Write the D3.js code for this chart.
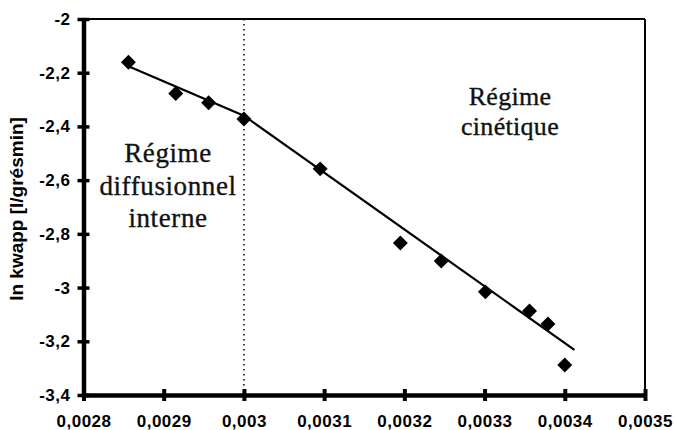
<!doctype html>
<html lang="fr">
<head>
<meta charset="utf-8">
<title>ln kwapp vs 1/T</title>
<style>
 body{margin:0;background:#fff;}
 svg{display:block;}
 .tick text{font-family:"Liberation Sans",Arial,sans-serif;font-weight:bold;font-size:17px;fill:#000;letter-spacing:0.5px;}
 .regime{font-family:"Liberation Serif","Times New Roman",serif;fill:#111;stroke:#111;stroke-width:0.35px;}
</style>
<script src="https://cdnjs.cloudflare.com/ajax/libs/d3/7.8.5/d3.min.js"></script>
</head>
<body>
<svg width="676" height="430"></svg>
<script>
// measured points: 1/T vs ln kwapp
const invT = [0.002856, 0.002915, 0.002956, 0.003, 0.003095, 0.003195, 0.003246, 0.003301, 0.003356, 0.003379, 0.0034];
const lnK  = [-2.161, -2.277, -2.312, -2.372, -2.558, -2.834, -2.901, -3.016, -3.087, -3.136, -3.288];

// two straight fits, joined at 1/T = 0.003
const fitX = [0.002856, 0.003, 0.003412];
const fitY = [-2.176, -2.36, -3.232];

const breakX = 0.003;

const xTicks = [0.0028, 0.0029, 0.003, 0.0031, 0.0032, 0.0033, 0.0034, 0.0035];
const yTicks = [-2, -2.2, -2.4, -2.6, -2.8, -3, -3.2, -3.4];

const yTitle = "ln kwapp [l/grésmin]";
const leftLabel = ["Régime", "diffusionnel", "interne"];
const rightLabel = ["Régime", "cinétique"];

const svg = d3.select("svg");

const margin = {left:83.5, right:31, top:19, bottom:35};
const W = 676, H = 430;

const x = d3.scaleLinear().domain([0.0028, 0.0035]).range([margin.left, W - margin.right]);
const y = d3.scaleLinear().domain([-3.4, -2]).range([H - margin.bottom, margin.top]);

const fr = d3.formatLocale({decimal:",", thousands:" ", grouping:[3], currency:["",""], minus:"-"});

// frame: thin top / right
svg.append("line")
 .attr("x1", x(0.0028)).attr("x2", x(0.0035))
 .attr("y1", y(-2)).attr("y2", y(-2))
 .attr("stroke", "#000").attr("stroke-width", 2);
svg.append("line")
 .attr("x1", x(0.0035)).attr("x2", x(0.0035))
 .attr("y1", y(-2)).attr("y2", y(-3.4))
 .attr("stroke", "#000").attr("stroke-width", 2);

// dotted separation line
svg.append("line")
 .attr("x1", x(breakX)).attr("x2", x(breakX))
 .attr("y1", y(-2)).attr("y2", y(-3.4))
 .attr("stroke", "#000").attr("stroke-width", 1.5)
 .attr("stroke-dasharray", "1.5,3.5");

// axes
const xAxis = d3.axisBottom(x).tickValues(xTicks).tickFormat(fr.format(".4~f"))
 .tickSizeInner(6).tickSizeOuter(0).tickPadding(14);
const yAxis = d3.axisLeft(y).tickValues(yTicks).tickFormat(fr.format(".1~f"))
 .tickSizeInner(6).tickSizeOuter(0).tickPadding(7);

const gx = svg.append("g").attr("transform", `translate(0,${y(-3.4)})`).call(xAxis);
gx.select(".domain").attr("stroke-width", 4.5);
gx.selectAll(".tick line").attr("y1", -6).attr("y2", 6).attr("stroke-width", 4);

const gy = svg.append("g").attr("transform", `translate(${x(0.0028)},0)`).call(yAxis);
gy.select(".domain").attr("stroke-width", 4.5);
gy.selectAll(".tick line").attr("x1", -6).attr("x2", 6).attr("stroke-width", 3.5);

svg.selectAll(".domain").attr("stroke", "#000");

// y title
svg.append("text")
 .attr("transform", `translate(23,${(y(-2) + y(-3.4)) / 2 + 2}) rotate(-90)`)
 .attr("text-anchor", "middle")
 .style("font-family", "'Liberation Sans',Arial,sans-serif")
 .style("font-weight", "bold")
 .style("font-size", "19px")
 .text(yTitle);

// fitted line
svg.append("path")
 .datum(d3.zip(fitX, fitY))
 .attr("fill", "none")
 .attr("stroke", "#000")
 .attr("stroke-width", 2.2)
 .attr("d", d3.line().x(d => x(d[0])).y(d => y(d[1])));

// diamonds
svg.append("g").selectAll("path")
 .data(d3.zip(invT, lnK))
 .join("path")
 .attr("d", d3.symbol(d3.symbolSquare, 112))
 .attr("transform", d => `translate(${x(d[0])},${y(d[1])}) rotate(45)`)
 .attr("fill", "#000");

// region labels
svg.append("g").selectAll("text")
 .data(leftLabel)
 .join("text")
 .attr("class", "regime")
 .attr("x", 168)
 .attr("y", (d, i) => 162 + i * 32.5)
 .attr("text-anchor", "middle")
 .style("font-size", "27px")
 .style("letter-spacing", "0.6px")
 .text(d => d);

svg.append("g").selectAll("text")
 .data(rightLabel)
 .join("text")
 .attr("class", "regime")
 .attr("x", 510)
 .attr("y", (d, i) => 105 + i * 30)
 .attr("text-anchor", "middle")
 .style("font-size", "26px")
 .style("letter-spacing", "0.3px")
 .text(d => d);
</script>
</body>
</html>
